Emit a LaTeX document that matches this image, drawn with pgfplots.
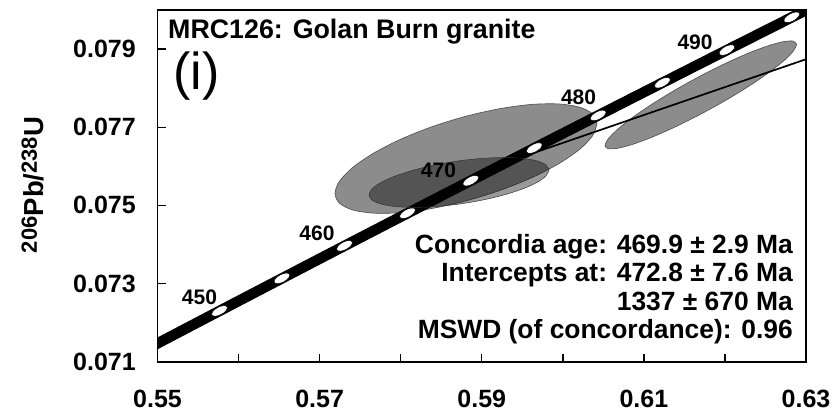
\documentclass[border=0pt]{standalone}
\usepackage{fontspec}
\setmainfont{Liberation Sans}
\usepackage{pgfplots}
\pgfplotsset{compat=1.18}
\usetikzlibrary{calc}
\definecolor{ellgray}{HTML}{8C8C8C}
\begin{document}
\begin{tikzpicture}
\begin{axis}[
  scale only axis, width=648.5pt, height=351.7pt,
  xmin=0.55, xmax=0.63, ymin=0.071, ymax=0.080,
  axis line style={line width=1.6pt},
  xtick={0.55,0.57,0.59,0.61,0.63},
  minor xtick={0.56,0.58,0.60,0.62},
  ytick={0.071,0.073,0.075,0.077,0.079},
  tick pos=left,
  tick align=inside,
  major tick length=8pt, minor tick length=8pt,
  every tick/.style={line width=1.4pt, black},
  every minor tick/.style={line width=1.4pt, black},
  scaled ticks=false,
  /pgf/number format/assume math mode=true,
  xticklabel style={font=\fontsize{25}{30}\selectfont\bfseries, inner sep=0pt, anchor=north, yshift=-28.5pt,
    /pgf/number format/fixed, /pgf/number format/fixed zerofill, /pgf/number format/precision=2},
  yticklabel style={font=\fontsize{25}{30}\selectfont\bfseries, inner sep=0pt, anchor=east, xshift=-21.5pt,
    /pgf/number format/fixed, /pgf/number format/fixed zerofill, /pgf/number format/precision=3},
  ylabel={\raisebox{7pt}{\fontsize{22}{22}\selectfont 206}Pb/\raisebox{7pt}{\fontsize{22}{22}\selectfont 238}U},
  ylabel style={font=\fontsize{27.5}{32}\selectfont\bfseries, at={(axis description cs:-0.192,0.5024)}, anchor=center, inner sep=0pt},
]
% large error ellipse
\addplot[fill=ellgray, draw=black!70, line width=0.6pt, smooth] coordinates {
(0.604219,0.077092) (0.603668,0.077342) (0.602053,0.077514) (0.599485,0.077596)
(0.596139,0.077584) (0.592241,0.077476) (0.588058,0.077282) (0.583875,0.077014)
(0.579978,0.076691) (0.576631,0.076333) (0.574063,0.075967) (0.572448,0.075617)
(0.571897,0.075306) (0.572448,0.075056) (0.574063,0.074884) (0.576631,0.074802)
(0.579978,0.074814) (0.583875,0.074922) (0.588058,0.075116) (0.592241,0.075384)
(0.596139,0.075707) (0.599485,0.076065) (0.602053,0.076431) (0.603668,0.076781)
(0.604219,0.077092)};
% right error ellipse
\addplot[fill=ellgray, draw=black!70, line width=0.6pt, smooth] coordinates {
(0.628843,0.079120) (0.628440,0.079203) (0.627259,0.079192) (0.625382,0.079088)
(0.622934,0.078899) (0.620084,0.078636) (0.617025,0.078318) (0.613966,0.077967)
(0.611116,0.077606) (0.608668,0.077260) (0.606791,0.076953) (0.605610,0.076705)
(0.605207,0.076534) (0.605610,0.076451) (0.606791,0.076462) (0.608668,0.076566)
(0.611116,0.076755) (0.613966,0.077018) (0.617025,0.077336) (0.620084,0.077687)
(0.622934,0.078048) (0.625382,0.078394) (0.627259,0.078701) (0.628440,0.078949)
(0.628843,0.079120)};
% concordia band
\addplot[black, line width=10.5pt, smooth] coordinates {
(0.542391,0.070638) (0.550005,0.071469) (0.557657,0.072300) (0.565346,0.073132)
(0.573073,0.073965) (0.580838,0.074798) (0.588642,0.075632) (0.596484,0.076467)
(0.604365,0.077302) (0.612285,0.078138) (0.620244,0.078975) (0.628241,0.079812)
(0.636279,0.080650)};
% age markers every 5 Ma
\addplot[only marks, mark=*, mark size=3.9pt,
  mark options={fill=white, draw=black, line width=0.5pt, rotate=28, xscale=2.2}] coordinates {
(0.557657,0.072300) (0.565346,0.073132) (0.573073,0.073965) (0.580838,0.074798)
(0.588642,0.075632) (0.596484,0.076467) (0.604365,0.077302) (0.612285,0.078138)
(0.620244,0.078975) (0.628241,0.079812)};
% concordia age ellipse (dark, translucent)
\addplot[fill=black, fill opacity=0.4, draw=black!80, line width=0.5pt, smooth] coordinates {
(0.598298,0.075906) (0.597919,0.076038) (0.596810,0.076140) (0.595046,0.076203)
(0.592747,0.076225) (0.590068,0.076203) (0.587195,0.076140) (0.584322,0.076038)
(0.581643,0.075906) (0.579344,0.075752) (0.577580,0.075587) (0.576471,0.075422)
(0.576092,0.075268) (0.576471,0.075136) (0.577580,0.075034) (0.579344,0.074971)
(0.581643,0.074949) (0.584322,0.074971) (0.587195,0.075034) (0.590068,0.075136)
(0.592747,0.075268) (0.595046,0.075422) (0.596810,0.075587) (0.597919,0.075752)
(0.598298,0.075906)};
% discordia
\addplot[black, line width=1.7pt] coordinates {(0.5930,0.07610) (0.6300,0.07874)};
% age labels
\begin{scope}[every node/.style={font=\fontsize{21}{25}\selectfont\bfseries, inner sep=0pt}]
\node at (axis cs:0.555181,0.072639) {450};
\node at (axis cs:0.569677,0.074285) {460};
\node at (axis cs:0.584666,0.075906) {470};
\node at (axis cs:0.601937,0.077756) {480};
\node at (axis cs:0.616309,0.079185) {490};
\end{scope}
\node[anchor=base west, inner sep=0pt, font=\fontsize{26.8}{30}\selectfont\bfseries] at (axis cs:0.551295,0.079262) {MRC126: Golan Burn granite};
\node[anchor=west, inner sep=0pt, font=\fontsize{52}{60}\selectfont] at (axis cs:0.551912,0.078318) {(i)};
\begin{scope}[every node/.style={anchor=base east, inner sep=0pt, font=\fontsize{26.4}{30}\selectfont\bfseries}]
\node at (axis cs:0.628399,0.073774) {Concordia age: 469.9 ± 2.9 Ma};
\node at (axis cs:0.628399,0.073042) {Intercepts at: 472.8 ± 7.6 Ma};
\node at (axis cs:0.628399,0.072320) {1337 ± 670 Ma};
\node at (axis cs:0.628399,0.071605) {MSWD (of concordance): 0.96};
\end{scope}
\end{axis}
\pgfresetboundingbox
\path ($(current axis.south west)+(-157.5pt,-51.3pt)$) rectangle ($(current axis.north east)+(28pt,10pt)$);
\end{tikzpicture}
\end{document}
